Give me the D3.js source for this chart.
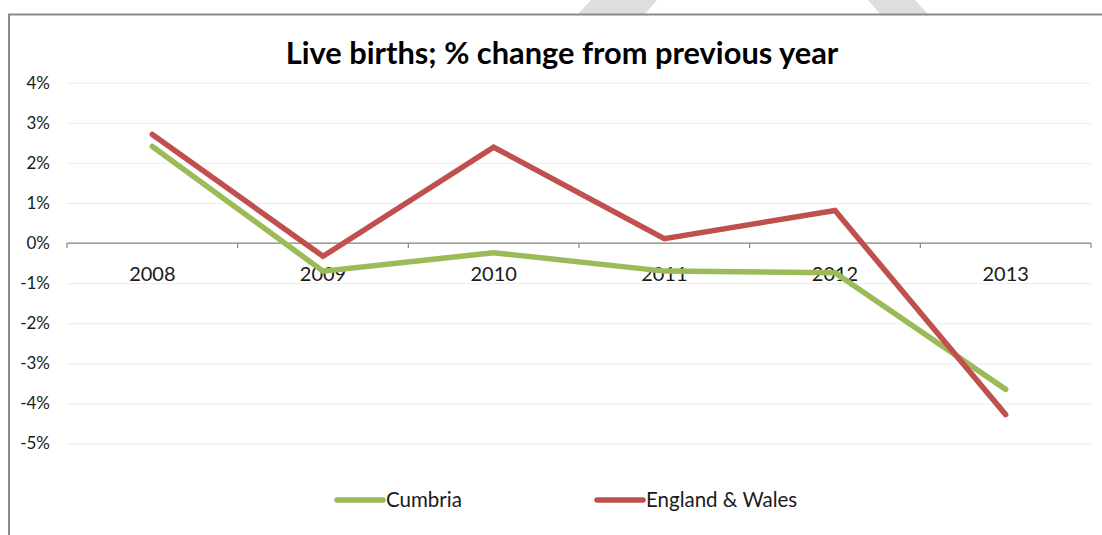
<!DOCTYPE html>
<html>
<head>
<meta charset="utf-8">
<script src="https://cdn.jsdelivr.net/npm/d3@7"></script>
<style>
  html, body { margin: 0; padding: 0; background: #fff; }
  svg { display: block; font-family: Lato, 'Open Sans', sans-serif; }
  .grid line { stroke: #ececec; stroke-width: 1; }
  .grid path { display: none; }
  .axis path, .axis line { stroke: #868686; stroke-width: 1.2; }
  .axis text { fill: #1a1a1a; }
</style>
</head>
<body>
<svg id="chart" width="1102" height="535"></svg>
<script>
// ── Data ──────────────────────────────────────────────────────────────────────
const years    = ['2008', '2009', '2010', '2011', '2012', '2013'];
const cumbria  = [2.41, -0.70, -0.24, -0.70, -0.74, -3.65];
const engWales = [2.71, -0.33, 2.39, 0.11, 0.81, -4.28];
const yTicks   = [4, 3, 2, 1, 0, -1, -2, -3, -4, -5];

const series = [
  { name: 'Cumbria',         values: cumbria,  color: '#9bbb59' },
  { name: 'England & Wales', values: engWales, color: '#c0504d' }
];

// ── Dimensions ────────────────────────────────────────────────────────────────
const margin = { top: 82.7, right: 11, bottom: 91.5, left: 67 };
const W = 1102, H = 535;
const w = W - margin.left - margin.right;
const h = H - margin.top - margin.bottom;

const svg = d3.select('#chart');

// watermark bits at the top edge
svg.append('polygon')
  .attr('points', '591,0 657,0 645,14 578,14')
  .attr('fill', '#dedede');
svg.append('polygon')
  .attr('points', '868,0 915,0 928,14 880,14')
  .attr('fill', '#dedede');

// chart frame (runs off the right and bottom)
svg.append('path')
  .attr('d', `M9,${H + 5} V14.5 H${W + 5}`)
  .attr('fill', 'none')
  .attr('stroke', '#8a8a8a')
  .attr('stroke-width', 2);

// Title
svg.append('text')
  .attr('x', 562).attr('y', 64)
  .attr('text-anchor', 'middle')
  .attr('font-size', 30.8)
  .attr('font-weight', 'bold')
  .attr('fill', '#000')
  .text('Live births; % change from previous year');

const g = svg.append('g')
  .attr('transform', `translate(${margin.left},${margin.top})`);

// Scales
const x = d3.scaleBand().domain(years).range([0, w]);
const y = d3.scaleLinear().domain([-5, 4]).range([h, 0]);

// Grid
g.append('g')
  .attr('class', 'grid')
  .call(d3.axisLeft(y).tickValues(yTicks).tickSize(-w).tickFormat(''));

// Y labels
g.append('g')
  .attr('class', 'axis')
  .call(d3.axisLeft(y).tickValues(yTicks).tickSize(0).tickPadding(17)
    .tickFormat(d => d + '%'))
  .call(a => a.select('.domain').remove())
  .selectAll('text')
  .attr('font-size', 17)
  .attr('font-family', 'Lato, sans-serif');

// X axis at zero
const xAxis = g.append('g')
  .attr('class', 'axis')
  .attr('transform', `translate(0,${y(0)})`);
xAxis.append('line')
  .attr('x1', 0).attr('x2', w)
  .attr('stroke', '#868686').attr('stroke-width', 1.2);
xAxis.selectAll('line.tick')
  .data(d3.range(years.length + 1))
  .join('line')
  .attr('class', 'tick')
  .attr('x1', i => i * x.step()).attr('x2', i => i * x.step())
  .attr('y1', 0).attr('y2', 5)
  .attr('stroke', '#868686').attr('stroke-width', 1.2);
xAxis.selectAll('text')
  .data(years)
  .join('text')
  .attr('x', d => x(d) + x.bandwidth() / 2)
  .attr('y', 37.5)
  .attr('text-anchor', 'middle')
  .attr('font-size', 20)
  .attr('fill', '#1a1a1a')
  .text(d => d);

// Lines
const line = d3.line()
  .x((d, i) => x(years[i]) + x.bandwidth() / 2)
  .y(d => y(d));

series.forEach(s => {
  g.append('path')
    .datum(s.values)
    .attr('d', line)
    .attr('fill', 'none')
    .attr('stroke', s.color)
    .attr('stroke-width', 5.5)
    .attr('stroke-linejoin', 'miter')
    .attr('stroke-linecap', 'round');
});

// Legend
const legendX = [337, 597];
series.forEach((s, i) => {
  const lg = svg.append('g').attr('transform', `translate(${legendX[i]},500)`);
  lg.append('line')
    .attr('x1', 0).attr('x2', 46)
    .attr('stroke', s.color)
    .attr('stroke-width', 5.5)
    .attr('stroke-linecap', 'round');
  lg.append('text')
    .attr('x', 49).attr('y', 7)
    .attr('font-size', 20.5)
    .attr('fill', '#1a1a1a')
    .text(s.name);
});
</script>
</body>
</html>
